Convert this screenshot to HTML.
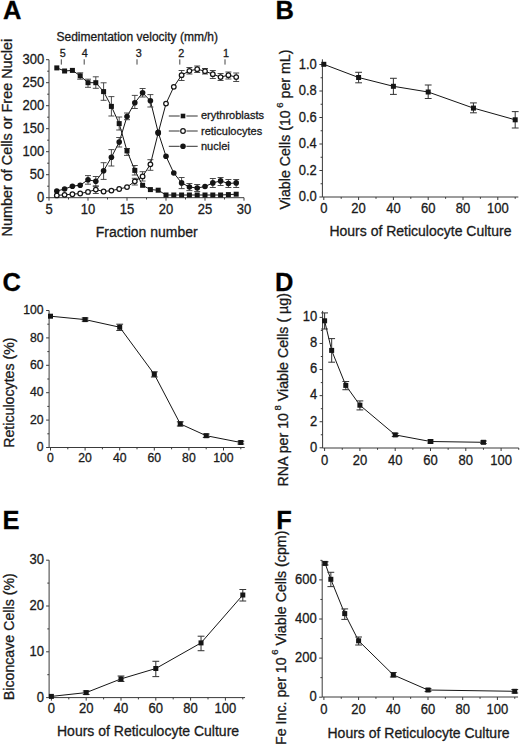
<!DOCTYPE html>
<html><head><meta charset="utf-8"><style>
html,body{margin:0;padding:0;background:#fff;}
svg{display:block;font-family:"Liberation Sans", sans-serif;}
text{stroke:#1a1a1a;stroke-width:0.3px;}
</style></head><body>
<svg width="520" height="745" viewBox="0 0 520 745">
<rect width="520" height="745" fill="#fff"/>
<text x="3.00" y="19.40" font-size="25.5" text-anchor="start" font-weight="bold" fill="#000">A</text>
<line x1="49.00" y1="197.70" x2="244.00" y2="197.70" stroke="#3a3a3a" stroke-width="1.0"/>
<line x1="49.00" y1="197.70" x2="49.00" y2="59.70" stroke="#3a3a3a" stroke-width="1.0"/>
<line x1="49.00" y1="197.70" x2="49.00" y2="200.70" stroke="#3a3a3a" stroke-width="1.0"/>
<text x="49.00" y="213.50" font-size="14.04" text-anchor="middle" textLength="7.23" lengthAdjust="spacingAndGlyphs" fill="#1a1a1a">5</text>
<line x1="88.00" y1="197.70" x2="88.00" y2="200.70" stroke="#3a3a3a" stroke-width="1.0"/>
<text x="88.00" y="213.50" font-size="14.04" text-anchor="middle" textLength="14.46" lengthAdjust="spacingAndGlyphs" fill="#1a1a1a">10</text>
<line x1="127.00" y1="197.70" x2="127.00" y2="200.70" stroke="#3a3a3a" stroke-width="1.0"/>
<text x="127.00" y="213.50" font-size="14.04" text-anchor="middle" textLength="14.46" lengthAdjust="spacingAndGlyphs" fill="#1a1a1a">15</text>
<line x1="166.00" y1="197.70" x2="166.00" y2="200.70" stroke="#3a3a3a" stroke-width="1.0"/>
<text x="166.00" y="213.50" font-size="14.04" text-anchor="middle" textLength="14.46" lengthAdjust="spacingAndGlyphs" fill="#1a1a1a">20</text>
<line x1="205.00" y1="197.70" x2="205.00" y2="200.70" stroke="#3a3a3a" stroke-width="1.0"/>
<text x="205.00" y="213.50" font-size="14.04" text-anchor="middle" textLength="14.46" lengthAdjust="spacingAndGlyphs" fill="#1a1a1a">25</text>
<line x1="244.00" y1="197.70" x2="244.00" y2="200.70" stroke="#3a3a3a" stroke-width="1.0"/>
<text x="244.00" y="213.50" font-size="14.04" text-anchor="middle" textLength="14.46" lengthAdjust="spacingAndGlyphs" fill="#1a1a1a">30</text>
<line x1="68.50" y1="197.70" x2="68.50" y2="199.50" stroke="#3a3a3a" stroke-width="1.0"/>
<line x1="107.50" y1="197.70" x2="107.50" y2="199.50" stroke="#3a3a3a" stroke-width="1.0"/>
<line x1="146.50" y1="197.70" x2="146.50" y2="199.50" stroke="#3a3a3a" stroke-width="1.0"/>
<line x1="185.50" y1="197.70" x2="185.50" y2="199.50" stroke="#3a3a3a" stroke-width="1.0"/>
<line x1="224.50" y1="197.70" x2="224.50" y2="199.50" stroke="#3a3a3a" stroke-width="1.0"/>
<line x1="46.00" y1="197.70" x2="49.00" y2="197.70" stroke="#3a3a3a" stroke-width="1.0"/>
<text x="44.20" y="201.90" font-size="14.04" text-anchor="end" textLength="7.23" lengthAdjust="spacingAndGlyphs" fill="#1a1a1a">0</text>
<line x1="46.00" y1="174.70" x2="49.00" y2="174.70" stroke="#3a3a3a" stroke-width="1.0"/>
<text x="44.20" y="178.90" font-size="14.04" text-anchor="end" textLength="14.46" lengthAdjust="spacingAndGlyphs" fill="#1a1a1a">50</text>
<line x1="46.00" y1="151.70" x2="49.00" y2="151.70" stroke="#3a3a3a" stroke-width="1.0"/>
<text x="44.20" y="155.90" font-size="14.04" text-anchor="end" textLength="21.68" lengthAdjust="spacingAndGlyphs" fill="#1a1a1a">100</text>
<line x1="46.00" y1="128.70" x2="49.00" y2="128.70" stroke="#3a3a3a" stroke-width="1.0"/>
<text x="44.20" y="132.90" font-size="14.04" text-anchor="end" textLength="21.68" lengthAdjust="spacingAndGlyphs" fill="#1a1a1a">150</text>
<line x1="46.00" y1="105.70" x2="49.00" y2="105.70" stroke="#3a3a3a" stroke-width="1.0"/>
<text x="44.20" y="109.90" font-size="14.04" text-anchor="end" textLength="21.68" lengthAdjust="spacingAndGlyphs" fill="#1a1a1a">200</text>
<line x1="46.00" y1="82.70" x2="49.00" y2="82.70" stroke="#3a3a3a" stroke-width="1.0"/>
<text x="44.20" y="86.90" font-size="14.04" text-anchor="end" textLength="21.68" lengthAdjust="spacingAndGlyphs" fill="#1a1a1a">250</text>
<line x1="46.00" y1="59.70" x2="49.00" y2="59.70" stroke="#3a3a3a" stroke-width="1.0"/>
<text x="44.20" y="63.90" font-size="14.04" text-anchor="end" textLength="21.68" lengthAdjust="spacingAndGlyphs" fill="#1a1a1a">300</text>
<line x1="47.20" y1="186.20" x2="49.00" y2="186.20" stroke="#3a3a3a" stroke-width="1.0"/>
<line x1="47.20" y1="163.20" x2="49.00" y2="163.20" stroke="#3a3a3a" stroke-width="1.0"/>
<line x1="47.20" y1="140.20" x2="49.00" y2="140.20" stroke="#3a3a3a" stroke-width="1.0"/>
<line x1="47.20" y1="117.20" x2="49.00" y2="117.20" stroke="#3a3a3a" stroke-width="1.0"/>
<line x1="47.20" y1="94.20" x2="49.00" y2="94.20" stroke="#3a3a3a" stroke-width="1.0"/>
<line x1="47.20" y1="71.20" x2="49.00" y2="71.20" stroke="#3a3a3a" stroke-width="1.0"/>
<text x="12.30" y="236.40" font-size="14.4" text-anchor="start" transform="rotate(-90 12.30 236.40)" fill="#1a1a1a">Number of Cells or Free Nuclei</text>
<text x="95.80" y="236.90" font-size="14" text-anchor="start" fill="#1a1a1a">Fraction number</text>
<text x="56.50" y="41.40" font-size="12" text-anchor="start" fill="#1a1a1a">Sedimentation velocity (mm/h)</text>
<text x="62.70" y="56.70" font-size="10.8" text-anchor="middle" fill="#1a1a1a">5</text>
<line x1="61.30" y1="59.30" x2="61.30" y2="64.60" stroke="#444" stroke-width="1.0"/>
<text x="84.80" y="56.70" font-size="10.8" text-anchor="middle" fill="#1a1a1a">4</text>
<line x1="84.20" y1="59.30" x2="84.20" y2="64.60" stroke="#444" stroke-width="1.0"/>
<text x="138.80" y="56.70" font-size="10.8" text-anchor="middle" fill="#1a1a1a">3</text>
<line x1="137.00" y1="59.30" x2="137.00" y2="64.60" stroke="#444" stroke-width="1.0"/>
<text x="181.20" y="56.70" font-size="10.8" text-anchor="middle" fill="#1a1a1a">2</text>
<line x1="179.80" y1="59.30" x2="179.80" y2="64.60" stroke="#444" stroke-width="1.0"/>
<text x="225.90" y="56.70" font-size="10.8" text-anchor="middle" fill="#1a1a1a">1</text>
<line x1="225.00" y1="59.30" x2="225.00" y2="64.60" stroke="#444" stroke-width="1.0"/>
<polyline points="56.80,195.40 64.60,194.80 72.40,194.20 80.20,193.50 88.00,191.90 95.80,189.60 103.60,191.50 111.40,190.60 119.20,189.00 127.00,187.10 134.80,181.30 142.60,176.40 150.40,164.30 158.20,133.00 166.00,103.60 173.80,86.80 181.60,75.20 189.40,70.80 197.20,69.20 205.00,71.20 212.80,74.20 220.60,77.10 228.40,75.20 236.20,77.10" fill="none" stroke="#151515" stroke-width="1.0"/>
<line x1="95.80" y1="186.00" x2="95.80" y2="193.50" stroke="#383838" stroke-width="0.9"/>
<line x1="92.80" y1="186.00" x2="98.80" y2="186.00" stroke="#383838" stroke-width="0.9"/>
<line x1="92.80" y1="193.50" x2="98.80" y2="193.50" stroke="#383838" stroke-width="0.9"/>
<line x1="134.80" y1="178.30" x2="134.80" y2="185.00" stroke="#383838" stroke-width="0.9"/>
<line x1="131.80" y1="178.30" x2="137.80" y2="178.30" stroke="#383838" stroke-width="0.9"/>
<line x1="131.80" y1="185.00" x2="137.80" y2="185.00" stroke="#383838" stroke-width="0.9"/>
<line x1="142.60" y1="171.70" x2="142.60" y2="181.00" stroke="#383838" stroke-width="0.9"/>
<line x1="139.60" y1="171.70" x2="145.60" y2="171.70" stroke="#383838" stroke-width="0.9"/>
<line x1="139.60" y1="181.00" x2="145.60" y2="181.00" stroke="#383838" stroke-width="0.9"/>
<line x1="150.40" y1="159.70" x2="150.40" y2="170.30" stroke="#383838" stroke-width="0.9"/>
<line x1="147.40" y1="159.70" x2="153.40" y2="159.70" stroke="#383838" stroke-width="0.9"/>
<line x1="147.40" y1="170.30" x2="153.40" y2="170.30" stroke="#383838" stroke-width="0.9"/>
<line x1="181.60" y1="70.50" x2="181.60" y2="80.50" stroke="#383838" stroke-width="0.9"/>
<line x1="178.60" y1="70.50" x2="184.60" y2="70.50" stroke="#383838" stroke-width="0.9"/>
<line x1="178.60" y1="80.50" x2="184.60" y2="80.50" stroke="#383838" stroke-width="0.9"/>
<line x1="189.40" y1="67.50" x2="189.40" y2="74.00" stroke="#383838" stroke-width="0.9"/>
<line x1="186.40" y1="67.50" x2="192.40" y2="67.50" stroke="#383838" stroke-width="0.9"/>
<line x1="186.40" y1="74.00" x2="192.40" y2="74.00" stroke="#383838" stroke-width="0.9"/>
<line x1="197.20" y1="66.00" x2="197.20" y2="72.50" stroke="#383838" stroke-width="0.9"/>
<line x1="194.20" y1="66.00" x2="200.20" y2="66.00" stroke="#383838" stroke-width="0.9"/>
<line x1="194.20" y1="72.50" x2="200.20" y2="72.50" stroke="#383838" stroke-width="0.9"/>
<line x1="205.00" y1="68.50" x2="205.00" y2="74.00" stroke="#383838" stroke-width="0.9"/>
<line x1="202.00" y1="68.50" x2="208.00" y2="68.50" stroke="#383838" stroke-width="0.9"/>
<line x1="202.00" y1="74.00" x2="208.00" y2="74.00" stroke="#383838" stroke-width="0.9"/>
<line x1="212.80" y1="70.50" x2="212.80" y2="78.50" stroke="#383838" stroke-width="0.9"/>
<line x1="209.80" y1="70.50" x2="215.80" y2="70.50" stroke="#383838" stroke-width="0.9"/>
<line x1="209.80" y1="78.50" x2="215.80" y2="78.50" stroke="#383838" stroke-width="0.9"/>
<line x1="220.60" y1="73.50" x2="220.60" y2="80.50" stroke="#383838" stroke-width="0.9"/>
<line x1="217.60" y1="73.50" x2="223.60" y2="73.50" stroke="#383838" stroke-width="0.9"/>
<line x1="217.60" y1="80.50" x2="223.60" y2="80.50" stroke="#383838" stroke-width="0.9"/>
<line x1="228.40" y1="72.00" x2="228.40" y2="79.00" stroke="#383838" stroke-width="0.9"/>
<line x1="225.40" y1="72.00" x2="231.40" y2="72.00" stroke="#383838" stroke-width="0.9"/>
<line x1="225.40" y1="79.00" x2="231.40" y2="79.00" stroke="#383838" stroke-width="0.9"/>
<line x1="236.20" y1="73.00" x2="236.20" y2="81.50" stroke="#383838" stroke-width="0.9"/>
<line x1="233.20" y1="73.00" x2="239.20" y2="73.00" stroke="#383838" stroke-width="0.9"/>
<line x1="233.20" y1="81.50" x2="239.20" y2="81.50" stroke="#383838" stroke-width="0.9"/>
<circle cx="56.80" cy="195.40" r="2.30" fill="#fff" stroke="#151515" stroke-width="1.25"/>
<circle cx="64.60" cy="194.80" r="2.30" fill="#fff" stroke="#151515" stroke-width="1.25"/>
<circle cx="72.40" cy="194.20" r="2.30" fill="#fff" stroke="#151515" stroke-width="1.25"/>
<circle cx="80.20" cy="193.50" r="2.30" fill="#fff" stroke="#151515" stroke-width="1.25"/>
<circle cx="88.00" cy="191.90" r="2.30" fill="#fff" stroke="#151515" stroke-width="1.25"/>
<circle cx="95.80" cy="189.60" r="2.30" fill="#fff" stroke="#151515" stroke-width="1.25"/>
<circle cx="103.60" cy="191.50" r="2.30" fill="#fff" stroke="#151515" stroke-width="1.25"/>
<circle cx="111.40" cy="190.60" r="2.30" fill="#fff" stroke="#151515" stroke-width="1.25"/>
<circle cx="119.20" cy="189.00" r="2.30" fill="#fff" stroke="#151515" stroke-width="1.25"/>
<circle cx="127.00" cy="187.10" r="2.30" fill="#fff" stroke="#151515" stroke-width="1.25"/>
<circle cx="134.80" cy="181.30" r="2.30" fill="#fff" stroke="#151515" stroke-width="1.25"/>
<circle cx="142.60" cy="176.40" r="2.30" fill="#fff" stroke="#151515" stroke-width="1.25"/>
<circle cx="150.40" cy="164.30" r="2.30" fill="#fff" stroke="#151515" stroke-width="1.25"/>
<circle cx="158.20" cy="133.00" r="2.30" fill="#fff" stroke="#151515" stroke-width="1.25"/>
<circle cx="166.00" cy="103.60" r="2.30" fill="#fff" stroke="#151515" stroke-width="1.25"/>
<circle cx="173.80" cy="86.80" r="2.30" fill="#fff" stroke="#151515" stroke-width="1.25"/>
<circle cx="181.60" cy="75.20" r="2.30" fill="#fff" stroke="#151515" stroke-width="1.25"/>
<circle cx="189.40" cy="70.80" r="2.30" fill="#fff" stroke="#151515" stroke-width="1.25"/>
<circle cx="197.20" cy="69.20" r="2.30" fill="#fff" stroke="#151515" stroke-width="1.25"/>
<circle cx="205.00" cy="71.20" r="2.30" fill="#fff" stroke="#151515" stroke-width="1.25"/>
<circle cx="212.80" cy="74.20" r="2.30" fill="#fff" stroke="#151515" stroke-width="1.25"/>
<circle cx="220.60" cy="77.10" r="2.30" fill="#fff" stroke="#151515" stroke-width="1.25"/>
<circle cx="228.40" cy="75.20" r="2.30" fill="#fff" stroke="#151515" stroke-width="1.25"/>
<circle cx="236.20" cy="77.10" r="2.30" fill="#fff" stroke="#151515" stroke-width="1.25"/>
<polyline points="56.80,191.00 64.60,189.00 72.40,186.20 80.20,185.20 88.00,179.80 95.80,181.30 103.60,170.80 111.40,157.30 119.20,142.10 127.00,116.50 134.80,102.80 142.60,92.80 150.40,100.80 158.20,132.30 166.00,156.30 173.80,173.00 181.60,182.90 189.40,187.00 197.20,188.00 205.00,186.50 212.80,182.90 220.60,180.90 228.40,183.50 236.20,182.90" fill="none" stroke="#151515" stroke-width="1.0"/>
<line x1="88.00" y1="175.60" x2="88.00" y2="184.20" stroke="#383838" stroke-width="0.9"/>
<line x1="85.00" y1="175.60" x2="91.00" y2="175.60" stroke="#383838" stroke-width="0.9"/>
<line x1="85.00" y1="184.20" x2="91.00" y2="184.20" stroke="#383838" stroke-width="0.9"/>
<line x1="95.80" y1="176.50" x2="95.80" y2="186.20" stroke="#383838" stroke-width="0.9"/>
<line x1="92.80" y1="176.50" x2="98.80" y2="176.50" stroke="#383838" stroke-width="0.9"/>
<line x1="92.80" y1="186.20" x2="98.80" y2="186.20" stroke="#383838" stroke-width="0.9"/>
<line x1="103.60" y1="162.70" x2="103.60" y2="179.40" stroke="#383838" stroke-width="0.9"/>
<line x1="100.60" y1="162.70" x2="106.60" y2="162.70" stroke="#383838" stroke-width="0.9"/>
<line x1="100.60" y1="179.40" x2="106.60" y2="179.40" stroke="#383838" stroke-width="0.9"/>
<line x1="111.40" y1="149.60" x2="111.40" y2="166.00" stroke="#383838" stroke-width="0.9"/>
<line x1="108.40" y1="149.60" x2="114.40" y2="149.60" stroke="#383838" stroke-width="0.9"/>
<line x1="108.40" y1="166.00" x2="114.40" y2="166.00" stroke="#383838" stroke-width="0.9"/>
<line x1="119.20" y1="137.50" x2="119.20" y2="147.00" stroke="#383838" stroke-width="0.9"/>
<line x1="116.20" y1="137.50" x2="122.20" y2="137.50" stroke="#383838" stroke-width="0.9"/>
<line x1="116.20" y1="147.00" x2="122.20" y2="147.00" stroke="#383838" stroke-width="0.9"/>
<line x1="127.00" y1="113.00" x2="127.00" y2="119.70" stroke="#383838" stroke-width="0.9"/>
<line x1="124.00" y1="113.00" x2="130.00" y2="113.00" stroke="#383838" stroke-width="0.9"/>
<line x1="124.00" y1="119.70" x2="130.00" y2="119.70" stroke="#383838" stroke-width="0.9"/>
<line x1="134.80" y1="95.40" x2="134.80" y2="108.50" stroke="#383838" stroke-width="0.9"/>
<line x1="131.80" y1="95.40" x2="137.80" y2="95.40" stroke="#383838" stroke-width="0.9"/>
<line x1="131.80" y1="108.50" x2="137.80" y2="108.50" stroke="#383838" stroke-width="0.9"/>
<line x1="142.60" y1="88.50" x2="142.60" y2="97.00" stroke="#383838" stroke-width="0.9"/>
<line x1="139.60" y1="88.50" x2="145.60" y2="88.50" stroke="#383838" stroke-width="0.9"/>
<line x1="139.60" y1="97.00" x2="145.60" y2="97.00" stroke="#383838" stroke-width="0.9"/>
<line x1="150.40" y1="94.60" x2="150.40" y2="107.00" stroke="#383838" stroke-width="0.9"/>
<line x1="147.40" y1="94.60" x2="153.40" y2="94.60" stroke="#383838" stroke-width="0.9"/>
<line x1="147.40" y1="107.00" x2="153.40" y2="107.00" stroke="#383838" stroke-width="0.9"/>
<line x1="181.60" y1="177.50" x2="181.60" y2="188.60" stroke="#383838" stroke-width="0.9"/>
<line x1="178.60" y1="177.50" x2="184.60" y2="177.50" stroke="#383838" stroke-width="0.9"/>
<line x1="178.60" y1="188.60" x2="184.60" y2="188.60" stroke="#383838" stroke-width="0.9"/>
<line x1="189.40" y1="183.50" x2="189.40" y2="190.60" stroke="#383838" stroke-width="0.9"/>
<line x1="186.40" y1="183.50" x2="192.40" y2="183.50" stroke="#383838" stroke-width="0.9"/>
<line x1="186.40" y1="190.60" x2="192.40" y2="190.60" stroke="#383838" stroke-width="0.9"/>
<line x1="197.20" y1="184.50" x2="197.20" y2="191.50" stroke="#383838" stroke-width="0.9"/>
<line x1="194.20" y1="184.50" x2="200.20" y2="184.50" stroke="#383838" stroke-width="0.9"/>
<line x1="194.20" y1="191.50" x2="200.20" y2="191.50" stroke="#383838" stroke-width="0.9"/>
<line x1="212.80" y1="178.50" x2="212.80" y2="187.50" stroke="#383838" stroke-width="0.9"/>
<line x1="209.80" y1="178.50" x2="215.80" y2="178.50" stroke="#383838" stroke-width="0.9"/>
<line x1="209.80" y1="187.50" x2="215.80" y2="187.50" stroke="#383838" stroke-width="0.9"/>
<line x1="220.60" y1="177.50" x2="220.60" y2="185.50" stroke="#383838" stroke-width="0.9"/>
<line x1="217.60" y1="177.50" x2="223.60" y2="177.50" stroke="#383838" stroke-width="0.9"/>
<line x1="217.60" y1="185.50" x2="223.60" y2="185.50" stroke="#383838" stroke-width="0.9"/>
<line x1="228.40" y1="179.50" x2="228.40" y2="187.50" stroke="#383838" stroke-width="0.9"/>
<line x1="225.40" y1="179.50" x2="231.40" y2="179.50" stroke="#383838" stroke-width="0.9"/>
<line x1="225.40" y1="187.50" x2="231.40" y2="187.50" stroke="#383838" stroke-width="0.9"/>
<line x1="236.20" y1="179.50" x2="236.20" y2="187.50" stroke="#383838" stroke-width="0.9"/>
<line x1="233.20" y1="179.50" x2="239.20" y2="179.50" stroke="#383838" stroke-width="0.9"/>
<line x1="233.20" y1="187.50" x2="239.20" y2="187.50" stroke="#383838" stroke-width="0.9"/>
<circle cx="56.80" cy="191.00" r="2.8" fill="#151515"/>
<circle cx="64.60" cy="189.00" r="2.8" fill="#151515"/>
<circle cx="72.40" cy="186.20" r="2.8" fill="#151515"/>
<circle cx="80.20" cy="185.20" r="2.8" fill="#151515"/>
<circle cx="88.00" cy="179.80" r="2.8" fill="#151515"/>
<circle cx="95.80" cy="181.30" r="2.8" fill="#151515"/>
<circle cx="103.60" cy="170.80" r="2.8" fill="#151515"/>
<circle cx="111.40" cy="157.30" r="2.8" fill="#151515"/>
<circle cx="119.20" cy="142.10" r="2.8" fill="#151515"/>
<circle cx="127.00" cy="116.50" r="2.8" fill="#151515"/>
<circle cx="134.80" cy="102.80" r="2.8" fill="#151515"/>
<circle cx="142.60" cy="92.80" r="2.8" fill="#151515"/>
<circle cx="150.40" cy="100.80" r="2.8" fill="#151515"/>
<circle cx="158.20" cy="132.30" r="2.8" fill="#151515"/>
<circle cx="166.00" cy="156.30" r="2.8" fill="#151515"/>
<circle cx="173.80" cy="173.00" r="2.8" fill="#151515"/>
<circle cx="181.60" cy="182.90" r="2.8" fill="#151515"/>
<circle cx="189.40" cy="187.00" r="2.8" fill="#151515"/>
<circle cx="197.20" cy="188.00" r="2.8" fill="#151515"/>
<circle cx="205.00" cy="186.50" r="2.8" fill="#151515"/>
<circle cx="212.80" cy="182.90" r="2.8" fill="#151515"/>
<circle cx="220.60" cy="180.90" r="2.8" fill="#151515"/>
<circle cx="228.40" cy="183.50" r="2.8" fill="#151515"/>
<circle cx="236.20" cy="182.90" r="2.8" fill="#151515"/>
<polyline points="56.80,67.90 64.60,71.00 72.40,70.40 80.20,75.80 88.00,82.70 95.80,82.70 103.60,91.60 111.40,106.40 119.20,123.60 127.00,150.90 134.80,170.40 142.60,185.30 150.40,189.60 158.20,190.20 166.00,195.00 173.80,195.00 181.60,195.00 189.40,195.00 197.20,195.00 205.00,195.00 212.80,195.00 220.60,195.00 228.40,194.60 236.20,194.20" fill="none" stroke="#151515" stroke-width="1.0"/>
<line x1="80.20" y1="72.80" x2="80.20" y2="79.20" stroke="#383838" stroke-width="0.9"/>
<line x1="77.20" y1="72.80" x2="83.20" y2="72.80" stroke="#383838" stroke-width="0.9"/>
<line x1="77.20" y1="79.20" x2="83.20" y2="79.20" stroke="#383838" stroke-width="0.9"/>
<line x1="88.00" y1="79.20" x2="88.00" y2="87.30" stroke="#383838" stroke-width="0.9"/>
<line x1="85.00" y1="79.20" x2="91.00" y2="79.20" stroke="#383838" stroke-width="0.9"/>
<line x1="85.00" y1="87.30" x2="91.00" y2="87.30" stroke="#383838" stroke-width="0.9"/>
<line x1="95.80" y1="76.80" x2="95.80" y2="88.30" stroke="#383838" stroke-width="0.9"/>
<line x1="92.80" y1="76.80" x2="98.80" y2="76.80" stroke="#383838" stroke-width="0.9"/>
<line x1="92.80" y1="88.30" x2="98.80" y2="88.30" stroke="#383838" stroke-width="0.9"/>
<line x1="103.60" y1="82.80" x2="103.60" y2="100.30" stroke="#383838" stroke-width="0.9"/>
<line x1="100.60" y1="82.80" x2="106.60" y2="82.80" stroke="#383838" stroke-width="0.9"/>
<line x1="100.60" y1="100.30" x2="106.60" y2="100.30" stroke="#383838" stroke-width="0.9"/>
<line x1="111.40" y1="96.60" x2="111.40" y2="116.00" stroke="#383838" stroke-width="0.9"/>
<line x1="108.40" y1="96.60" x2="114.40" y2="96.60" stroke="#383838" stroke-width="0.9"/>
<line x1="108.40" y1="116.00" x2="114.40" y2="116.00" stroke="#383838" stroke-width="0.9"/>
<line x1="119.20" y1="117.00" x2="119.20" y2="130.00" stroke="#383838" stroke-width="0.9"/>
<line x1="116.20" y1="117.00" x2="122.20" y2="117.00" stroke="#383838" stroke-width="0.9"/>
<line x1="116.20" y1="130.00" x2="122.20" y2="130.00" stroke="#383838" stroke-width="0.9"/>
<line x1="127.00" y1="148.50" x2="127.00" y2="155.40" stroke="#383838" stroke-width="0.9"/>
<line x1="124.00" y1="148.50" x2="130.00" y2="148.50" stroke="#383838" stroke-width="0.9"/>
<line x1="124.00" y1="155.40" x2="130.00" y2="155.40" stroke="#383838" stroke-width="0.9"/>
<line x1="134.80" y1="165.50" x2="134.80" y2="175.00" stroke="#383838" stroke-width="0.9"/>
<line x1="131.80" y1="165.50" x2="137.80" y2="165.50" stroke="#383838" stroke-width="0.9"/>
<line x1="131.80" y1="175.00" x2="137.80" y2="175.00" stroke="#383838" stroke-width="0.9"/>
<rect x="54.30" y="65.40" width="5.0" height="5.0" fill="#151515"/>
<rect x="62.10" y="68.50" width="5.0" height="5.0" fill="#151515"/>
<rect x="69.90" y="67.90" width="5.0" height="5.0" fill="#151515"/>
<rect x="77.70" y="73.30" width="5.0" height="5.0" fill="#151515"/>
<rect x="85.50" y="80.20" width="5.0" height="5.0" fill="#151515"/>
<rect x="93.30" y="80.20" width="5.0" height="5.0" fill="#151515"/>
<rect x="101.10" y="89.10" width="5.0" height="5.0" fill="#151515"/>
<rect x="108.90" y="103.90" width="5.0" height="5.0" fill="#151515"/>
<rect x="116.70" y="121.10" width="5.0" height="5.0" fill="#151515"/>
<rect x="124.50" y="148.40" width="5.0" height="5.0" fill="#151515"/>
<rect x="132.30" y="167.90" width="5.0" height="5.0" fill="#151515"/>
<rect x="140.10" y="182.80" width="5.0" height="5.0" fill="#151515"/>
<rect x="147.90" y="187.10" width="5.0" height="5.0" fill="#151515"/>
<rect x="155.70" y="187.70" width="5.0" height="5.0" fill="#151515"/>
<rect x="163.50" y="192.50" width="5.0" height="5.0" fill="#151515"/>
<rect x="171.30" y="192.50" width="5.0" height="5.0" fill="#151515"/>
<rect x="179.10" y="192.50" width="5.0" height="5.0" fill="#151515"/>
<rect x="186.90" y="192.50" width="5.0" height="5.0" fill="#151515"/>
<rect x="194.70" y="192.50" width="5.0" height="5.0" fill="#151515"/>
<rect x="202.50" y="192.50" width="5.0" height="5.0" fill="#151515"/>
<rect x="210.30" y="192.50" width="5.0" height="5.0" fill="#151515"/>
<rect x="218.10" y="192.50" width="5.0" height="5.0" fill="#151515"/>
<rect x="225.90" y="192.10" width="5.0" height="5.0" fill="#151515"/>
<rect x="233.70" y="191.70" width="5.0" height="5.0" fill="#151515"/>
<line x1="168.80" y1="116.00" x2="179.70" y2="116.00" stroke="#333" stroke-width="1.0"/>
<line x1="186.40" y1="116.00" x2="197.70" y2="116.00" stroke="#333" stroke-width="1.0"/>
<rect x="180.70" y="113.70" width="4.6" height="4.6" fill="#151515"/>
<text x="201.00" y="119.20" font-size="11" text-anchor="start" fill="#1a1a1a">erythroblasts</text>
<line x1="168.80" y1="131.00" x2="179.70" y2="131.00" stroke="#333" stroke-width="1.0"/>
<line x1="186.40" y1="131.00" x2="197.70" y2="131.00" stroke="#333" stroke-width="1.0"/>
<circle cx="183.00" cy="131.00" r="2.30" fill="#fff" stroke="#151515" stroke-width="1.25"/>
<text x="201.00" y="134.60" font-size="11" text-anchor="start" fill="#1a1a1a">reticulocytes</text>
<line x1="168.80" y1="146.30" x2="179.70" y2="146.30" stroke="#333" stroke-width="1.0"/>
<line x1="186.40" y1="146.30" x2="197.70" y2="146.30" stroke="#333" stroke-width="1.0"/>
<circle cx="183.00" cy="146.30" r="2.8" fill="#151515"/>
<text x="201.00" y="150.20" font-size="11" text-anchor="start" fill="#1a1a1a">nuclei</text>
<text x="275.50" y="19.20" font-size="25.5" text-anchor="start" font-weight="bold" fill="#000">B</text>
<line x1="322.40" y1="197.00" x2="518.33" y2="197.00" stroke="#3a3a3a" stroke-width="1.0"/>
<line x1="322.40" y1="197.00" x2="322.40" y2="59.30" stroke="#3a3a3a" stroke-width="1.0"/>
<line x1="323.80" y1="197.00" x2="323.80" y2="200.00" stroke="#3a3a3a" stroke-width="1.0"/>
<text x="323.80" y="212.80" font-size="14.04" text-anchor="middle" textLength="7.23" lengthAdjust="spacingAndGlyphs" fill="#1a1a1a">0</text>
<line x1="358.60" y1="197.00" x2="358.60" y2="200.00" stroke="#3a3a3a" stroke-width="1.0"/>
<text x="358.60" y="212.80" font-size="14.04" text-anchor="middle" textLength="14.46" lengthAdjust="spacingAndGlyphs" fill="#1a1a1a">20</text>
<line x1="393.40" y1="197.00" x2="393.40" y2="200.00" stroke="#3a3a3a" stroke-width="1.0"/>
<text x="393.40" y="212.80" font-size="14.04" text-anchor="middle" textLength="14.46" lengthAdjust="spacingAndGlyphs" fill="#1a1a1a">40</text>
<line x1="428.20" y1="197.00" x2="428.20" y2="200.00" stroke="#3a3a3a" stroke-width="1.0"/>
<text x="428.20" y="212.80" font-size="14.04" text-anchor="middle" textLength="14.46" lengthAdjust="spacingAndGlyphs" fill="#1a1a1a">60</text>
<line x1="463.00" y1="197.00" x2="463.00" y2="200.00" stroke="#3a3a3a" stroke-width="1.0"/>
<text x="463.00" y="212.80" font-size="14.04" text-anchor="middle" textLength="14.46" lengthAdjust="spacingAndGlyphs" fill="#1a1a1a">80</text>
<line x1="497.80" y1="197.00" x2="497.80" y2="200.00" stroke="#3a3a3a" stroke-width="1.0"/>
<text x="497.80" y="212.80" font-size="14.04" text-anchor="middle" textLength="21.68" lengthAdjust="spacingAndGlyphs" fill="#1a1a1a">100</text>
<line x1="341.20" y1="197.00" x2="341.20" y2="198.80" stroke="#3a3a3a" stroke-width="1.0"/>
<line x1="376.00" y1="197.00" x2="376.00" y2="198.80" stroke="#3a3a3a" stroke-width="1.0"/>
<line x1="410.80" y1="197.00" x2="410.80" y2="198.80" stroke="#3a3a3a" stroke-width="1.0"/>
<line x1="445.60" y1="197.00" x2="445.60" y2="198.80" stroke="#3a3a3a" stroke-width="1.0"/>
<line x1="480.40" y1="197.00" x2="480.40" y2="198.80" stroke="#3a3a3a" stroke-width="1.0"/>
<line x1="515.20" y1="197.00" x2="515.20" y2="198.80" stroke="#3a3a3a" stroke-width="1.0"/>
<line x1="319.40" y1="197.00" x2="322.40" y2="197.00" stroke="#3a3a3a" stroke-width="1.0"/>
<text x="316.80" y="201.20" font-size="14.04" text-anchor="end" textLength="18.07" lengthAdjust="spacingAndGlyphs" fill="#1a1a1a">0.0</text>
<line x1="319.40" y1="170.50" x2="322.40" y2="170.50" stroke="#3a3a3a" stroke-width="1.0"/>
<text x="316.80" y="174.70" font-size="14.04" text-anchor="end" textLength="18.07" lengthAdjust="spacingAndGlyphs" fill="#1a1a1a">0.2</text>
<line x1="319.40" y1="144.00" x2="322.40" y2="144.00" stroke="#3a3a3a" stroke-width="1.0"/>
<text x="316.80" y="148.20" font-size="14.04" text-anchor="end" textLength="18.07" lengthAdjust="spacingAndGlyphs" fill="#1a1a1a">0.4</text>
<line x1="319.40" y1="117.50" x2="322.40" y2="117.50" stroke="#3a3a3a" stroke-width="1.0"/>
<text x="316.80" y="121.70" font-size="14.04" text-anchor="end" textLength="18.07" lengthAdjust="spacingAndGlyphs" fill="#1a1a1a">0.6</text>
<line x1="319.40" y1="91.00" x2="322.40" y2="91.00" stroke="#3a3a3a" stroke-width="1.0"/>
<text x="316.80" y="95.20" font-size="14.04" text-anchor="end" textLength="18.07" lengthAdjust="spacingAndGlyphs" fill="#1a1a1a">0.8</text>
<line x1="319.40" y1="64.50" x2="322.40" y2="64.50" stroke="#3a3a3a" stroke-width="1.0"/>
<text x="316.80" y="68.70" font-size="14.04" text-anchor="end" textLength="18.07" lengthAdjust="spacingAndGlyphs" fill="#1a1a1a">1.0</text>
<line x1="320.60" y1="183.75" x2="322.40" y2="183.75" stroke="#3a3a3a" stroke-width="1.0"/>
<line x1="320.60" y1="157.25" x2="322.40" y2="157.25" stroke="#3a3a3a" stroke-width="1.0"/>
<line x1="320.60" y1="130.75" x2="322.40" y2="130.75" stroke="#3a3a3a" stroke-width="1.0"/>
<line x1="320.60" y1="104.25" x2="322.40" y2="104.25" stroke="#3a3a3a" stroke-width="1.0"/>
<line x1="320.60" y1="77.75" x2="322.40" y2="77.75" stroke="#3a3a3a" stroke-width="1.0"/>
<text x="290.20" y="209.40" font-size="14.2" text-anchor="start" transform="rotate(-90 290.20 209.40)" fill="#1a1a1a">Viable Cells (10<tspan font-size="9.5" dy="-7.3"> 6</tspan><tspan dy="7.3"> per mL)</tspan></text>
<text x="329.40" y="235.80" font-size="14" text-anchor="start" fill="#1a1a1a">Hours of Reticulocyte Culture</text>
<polyline points="323.80,64.30 358.60,77.50 393.40,86.30 428.20,92.00 473.44,108.10 515.20,119.80" fill="none" stroke="#151515" stroke-width="1.0"/>
<line x1="358.60" y1="72.30" x2="358.60" y2="82.80" stroke="#383838" stroke-width="1.05"/>
<line x1="355.20" y1="72.30" x2="362.00" y2="72.30" stroke="#383838" stroke-width="1.05"/>
<line x1="355.20" y1="82.80" x2="362.00" y2="82.80" stroke="#383838" stroke-width="1.05"/>
<line x1="393.40" y1="78.30" x2="393.40" y2="94.40" stroke="#383838" stroke-width="1.05"/>
<line x1="390.00" y1="78.30" x2="396.80" y2="78.30" stroke="#383838" stroke-width="1.05"/>
<line x1="390.00" y1="94.40" x2="396.80" y2="94.40" stroke="#383838" stroke-width="1.05"/>
<line x1="428.20" y1="85.00" x2="428.20" y2="98.50" stroke="#383838" stroke-width="1.05"/>
<line x1="424.80" y1="85.00" x2="431.60" y2="85.00" stroke="#383838" stroke-width="1.05"/>
<line x1="424.80" y1="98.50" x2="431.60" y2="98.50" stroke="#383838" stroke-width="1.05"/>
<line x1="473.44" y1="102.90" x2="473.44" y2="112.80" stroke="#383838" stroke-width="1.05"/>
<line x1="470.04" y1="102.90" x2="476.84" y2="102.90" stroke="#383838" stroke-width="1.05"/>
<line x1="470.04" y1="112.80" x2="476.84" y2="112.80" stroke="#383838" stroke-width="1.05"/>
<line x1="515.20" y1="111.60" x2="515.20" y2="128.00" stroke="#383838" stroke-width="1.05"/>
<line x1="511.80" y1="111.60" x2="518.60" y2="111.60" stroke="#383838" stroke-width="1.05"/>
<line x1="511.80" y1="128.00" x2="518.60" y2="128.00" stroke="#383838" stroke-width="1.05"/>
<rect x="321.30" y="61.80" width="5.0" height="5.0" fill="#151515"/>
<rect x="356.10" y="75.00" width="5.0" height="5.0" fill="#151515"/>
<rect x="390.90" y="83.80" width="5.0" height="5.0" fill="#151515"/>
<rect x="425.70" y="89.50" width="5.0" height="5.0" fill="#151515"/>
<rect x="470.94" y="105.60" width="5.0" height="5.0" fill="#151515"/>
<rect x="512.70" y="117.30" width="5.0" height="5.0" fill="#151515"/>
<text x="2.50" y="291.30" font-size="25.5" text-anchor="start" font-weight="bold" fill="#000">C</text>
<line x1="49.10" y1="447.50" x2="244.78" y2="447.50" stroke="#3a3a3a" stroke-width="1.0"/>
<line x1="49.10" y1="447.50" x2="49.10" y2="310.50" stroke="#3a3a3a" stroke-width="1.0"/>
<line x1="50.50" y1="447.50" x2="50.50" y2="450.50" stroke="#3a3a3a" stroke-width="1.0"/>
<text x="50.50" y="462.30" font-size="12.20" text-anchor="middle" textLength="6.78" lengthAdjust="spacingAndGlyphs" fill="#1a1a1a">0</text>
<line x1="85.10" y1="447.50" x2="85.10" y2="450.50" stroke="#3a3a3a" stroke-width="1.0"/>
<text x="85.10" y="462.30" font-size="12.20" text-anchor="middle" textLength="13.57" lengthAdjust="spacingAndGlyphs" fill="#1a1a1a">20</text>
<line x1="119.70" y1="447.50" x2="119.70" y2="450.50" stroke="#3a3a3a" stroke-width="1.0"/>
<text x="119.70" y="462.30" font-size="12.20" text-anchor="middle" textLength="13.57" lengthAdjust="spacingAndGlyphs" fill="#1a1a1a">40</text>
<line x1="154.30" y1="447.50" x2="154.30" y2="450.50" stroke="#3a3a3a" stroke-width="1.0"/>
<text x="154.30" y="462.30" font-size="12.20" text-anchor="middle" textLength="13.57" lengthAdjust="spacingAndGlyphs" fill="#1a1a1a">60</text>
<line x1="188.90" y1="447.50" x2="188.90" y2="450.50" stroke="#3a3a3a" stroke-width="1.0"/>
<text x="188.90" y="462.30" font-size="12.20" text-anchor="middle" textLength="13.57" lengthAdjust="spacingAndGlyphs" fill="#1a1a1a">80</text>
<line x1="223.50" y1="447.50" x2="223.50" y2="450.50" stroke="#3a3a3a" stroke-width="1.0"/>
<text x="223.50" y="462.30" font-size="12.20" text-anchor="middle" textLength="20.35" lengthAdjust="spacingAndGlyphs" fill="#1a1a1a">100</text>
<line x1="67.80" y1="447.50" x2="67.80" y2="449.30" stroke="#3a3a3a" stroke-width="1.0"/>
<line x1="102.40" y1="447.50" x2="102.40" y2="449.30" stroke="#3a3a3a" stroke-width="1.0"/>
<line x1="137.00" y1="447.50" x2="137.00" y2="449.30" stroke="#3a3a3a" stroke-width="1.0"/>
<line x1="171.60" y1="447.50" x2="171.60" y2="449.30" stroke="#3a3a3a" stroke-width="1.0"/>
<line x1="206.20" y1="447.50" x2="206.20" y2="449.30" stroke="#3a3a3a" stroke-width="1.0"/>
<line x1="240.80" y1="447.50" x2="240.80" y2="449.30" stroke="#3a3a3a" stroke-width="1.0"/>
<line x1="46.10" y1="447.50" x2="49.10" y2="447.50" stroke="#3a3a3a" stroke-width="1.0"/>
<text x="43.60" y="451.10" font-size="12.20" text-anchor="end" textLength="6.78" lengthAdjust="spacingAndGlyphs" fill="#1a1a1a">0</text>
<line x1="46.10" y1="420.10" x2="49.10" y2="420.10" stroke="#3a3a3a" stroke-width="1.0"/>
<text x="43.60" y="423.70" font-size="12.20" text-anchor="end" textLength="13.57" lengthAdjust="spacingAndGlyphs" fill="#1a1a1a">20</text>
<line x1="46.10" y1="392.70" x2="49.10" y2="392.70" stroke="#3a3a3a" stroke-width="1.0"/>
<text x="43.60" y="396.30" font-size="12.20" text-anchor="end" textLength="13.57" lengthAdjust="spacingAndGlyphs" fill="#1a1a1a">40</text>
<line x1="46.10" y1="365.30" x2="49.10" y2="365.30" stroke="#3a3a3a" stroke-width="1.0"/>
<text x="43.60" y="368.90" font-size="12.20" text-anchor="end" textLength="13.57" lengthAdjust="spacingAndGlyphs" fill="#1a1a1a">60</text>
<line x1="46.10" y1="337.90" x2="49.10" y2="337.90" stroke="#3a3a3a" stroke-width="1.0"/>
<text x="43.60" y="341.50" font-size="12.20" text-anchor="end" textLength="13.57" lengthAdjust="spacingAndGlyphs" fill="#1a1a1a">80</text>
<line x1="46.10" y1="310.50" x2="49.10" y2="310.50" stroke="#3a3a3a" stroke-width="1.0"/>
<text x="43.60" y="314.10" font-size="12.20" text-anchor="end" textLength="20.35" lengthAdjust="spacingAndGlyphs" fill="#1a1a1a">100</text>
<line x1="47.30" y1="433.80" x2="49.10" y2="433.80" stroke="#3a3a3a" stroke-width="1.0"/>
<line x1="47.30" y1="406.40" x2="49.10" y2="406.40" stroke="#3a3a3a" stroke-width="1.0"/>
<line x1="47.30" y1="379.00" x2="49.10" y2="379.00" stroke="#3a3a3a" stroke-width="1.0"/>
<line x1="47.30" y1="351.60" x2="49.10" y2="351.60" stroke="#3a3a3a" stroke-width="1.0"/>
<line x1="47.30" y1="324.20" x2="49.10" y2="324.20" stroke="#3a3a3a" stroke-width="1.0"/>
<text x="14.00" y="447.80" font-size="14.2" text-anchor="start" transform="rotate(-90 14.00 447.80)" fill="#1a1a1a">Reticulocytes (%)</text>
<polyline points="50.50,316.20 85.10,319.60 119.70,327.20 154.30,374.30 180.25,423.90 206.20,435.70 240.80,442.50" fill="none" stroke="#151515" stroke-width="1.0"/>
<line x1="85.10" y1="318.00" x2="85.10" y2="321.20" stroke="#383838" stroke-width="1.05"/>
<line x1="81.70" y1="318.00" x2="88.50" y2="318.00" stroke="#383838" stroke-width="1.05"/>
<line x1="81.70" y1="321.20" x2="88.50" y2="321.20" stroke="#383838" stroke-width="1.05"/>
<line x1="119.70" y1="324.20" x2="119.70" y2="330.50" stroke="#383838" stroke-width="1.05"/>
<line x1="116.30" y1="324.20" x2="123.10" y2="324.20" stroke="#383838" stroke-width="1.05"/>
<line x1="116.30" y1="330.50" x2="123.10" y2="330.50" stroke="#383838" stroke-width="1.05"/>
<line x1="154.30" y1="371.80" x2="154.30" y2="377.00" stroke="#383838" stroke-width="1.05"/>
<line x1="150.90" y1="371.80" x2="157.70" y2="371.80" stroke="#383838" stroke-width="1.05"/>
<line x1="150.90" y1="377.00" x2="157.70" y2="377.00" stroke="#383838" stroke-width="1.05"/>
<line x1="180.25" y1="421.80" x2="180.25" y2="426.00" stroke="#383838" stroke-width="1.05"/>
<line x1="176.85" y1="421.80" x2="183.65" y2="421.80" stroke="#383838" stroke-width="1.05"/>
<line x1="176.85" y1="426.00" x2="183.65" y2="426.00" stroke="#383838" stroke-width="1.05"/>
<line x1="206.20" y1="434.00" x2="206.20" y2="437.50" stroke="#383838" stroke-width="1.05"/>
<line x1="202.80" y1="434.00" x2="209.60" y2="434.00" stroke="#383838" stroke-width="1.05"/>
<line x1="202.80" y1="437.50" x2="209.60" y2="437.50" stroke="#383838" stroke-width="1.05"/>
<line x1="240.80" y1="441.20" x2="240.80" y2="444.00" stroke="#383838" stroke-width="1.05"/>
<line x1="237.40" y1="441.20" x2="244.20" y2="441.20" stroke="#383838" stroke-width="1.05"/>
<line x1="237.40" y1="444.00" x2="244.20" y2="444.00" stroke="#383838" stroke-width="1.05"/>
<rect x="48.00" y="313.70" width="5.0" height="5.0" fill="#151515"/>
<rect x="82.60" y="317.10" width="5.0" height="5.0" fill="#151515"/>
<rect x="117.20" y="324.70" width="5.0" height="5.0" fill="#151515"/>
<rect x="151.80" y="371.80" width="5.0" height="5.0" fill="#151515"/>
<rect x="177.75" y="421.40" width="5.0" height="5.0" fill="#151515"/>
<rect x="203.70" y="433.20" width="5.0" height="5.0" fill="#151515"/>
<rect x="238.30" y="440.00" width="5.0" height="5.0" fill="#151515"/>
<text x="275.00" y="290.80" font-size="25.5" text-anchor="start" font-weight="bold" fill="#000">D</text>
<line x1="322.60" y1="448.00" x2="518.75" y2="448.00" stroke="#3a3a3a" stroke-width="1.0"/>
<line x1="322.60" y1="448.00" x2="322.60" y2="310.88" stroke="#3a3a3a" stroke-width="1.0"/>
<line x1="324.60" y1="448.00" x2="324.60" y2="451.00" stroke="#3a3a3a" stroke-width="1.0"/>
<text x="324.60" y="464.90" font-size="14.04" text-anchor="middle" textLength="7.23" lengthAdjust="spacingAndGlyphs" fill="#1a1a1a">0</text>
<line x1="359.90" y1="448.00" x2="359.90" y2="451.00" stroke="#3a3a3a" stroke-width="1.0"/>
<text x="359.90" y="464.90" font-size="14.04" text-anchor="middle" textLength="14.46" lengthAdjust="spacingAndGlyphs" fill="#1a1a1a">20</text>
<line x1="395.20" y1="448.00" x2="395.20" y2="451.00" stroke="#3a3a3a" stroke-width="1.0"/>
<text x="395.20" y="464.90" font-size="14.04" text-anchor="middle" textLength="14.46" lengthAdjust="spacingAndGlyphs" fill="#1a1a1a">40</text>
<line x1="430.50" y1="448.00" x2="430.50" y2="451.00" stroke="#3a3a3a" stroke-width="1.0"/>
<text x="430.50" y="464.90" font-size="14.04" text-anchor="middle" textLength="14.46" lengthAdjust="spacingAndGlyphs" fill="#1a1a1a">60</text>
<line x1="465.80" y1="448.00" x2="465.80" y2="451.00" stroke="#3a3a3a" stroke-width="1.0"/>
<text x="465.80" y="464.90" font-size="14.04" text-anchor="middle" textLength="14.46" lengthAdjust="spacingAndGlyphs" fill="#1a1a1a">80</text>
<line x1="501.10" y1="448.00" x2="501.10" y2="451.00" stroke="#3a3a3a" stroke-width="1.0"/>
<text x="501.10" y="464.90" font-size="14.04" text-anchor="middle" textLength="21.68" lengthAdjust="spacingAndGlyphs" fill="#1a1a1a">100</text>
<line x1="342.25" y1="448.00" x2="342.25" y2="449.80" stroke="#3a3a3a" stroke-width="1.0"/>
<line x1="377.55" y1="448.00" x2="377.55" y2="449.80" stroke="#3a3a3a" stroke-width="1.0"/>
<line x1="412.85" y1="448.00" x2="412.85" y2="449.80" stroke="#3a3a3a" stroke-width="1.0"/>
<line x1="448.15" y1="448.00" x2="448.15" y2="449.80" stroke="#3a3a3a" stroke-width="1.0"/>
<line x1="483.45" y1="448.00" x2="483.45" y2="449.80" stroke="#3a3a3a" stroke-width="1.0"/>
<line x1="518.75" y1="448.00" x2="518.75" y2="449.80" stroke="#3a3a3a" stroke-width="1.0"/>
<line x1="319.60" y1="447.80" x2="322.60" y2="447.80" stroke="#3a3a3a" stroke-width="1.0"/>
<text x="317.20" y="451.60" font-size="14.04" text-anchor="end" textLength="7.23" lengthAdjust="spacingAndGlyphs" fill="#1a1a1a">0</text>
<line x1="319.60" y1="421.72" x2="322.60" y2="421.72" stroke="#3a3a3a" stroke-width="1.0"/>
<text x="317.20" y="425.52" font-size="14.04" text-anchor="end" textLength="7.23" lengthAdjust="spacingAndGlyphs" fill="#1a1a1a">2</text>
<line x1="319.60" y1="395.64" x2="322.60" y2="395.64" stroke="#3a3a3a" stroke-width="1.0"/>
<text x="317.20" y="399.44" font-size="14.04" text-anchor="end" textLength="7.23" lengthAdjust="spacingAndGlyphs" fill="#1a1a1a">4</text>
<line x1="319.60" y1="369.56" x2="322.60" y2="369.56" stroke="#3a3a3a" stroke-width="1.0"/>
<text x="317.20" y="373.36" font-size="14.04" text-anchor="end" textLength="7.23" lengthAdjust="spacingAndGlyphs" fill="#1a1a1a">6</text>
<line x1="319.60" y1="343.48" x2="322.60" y2="343.48" stroke="#3a3a3a" stroke-width="1.0"/>
<text x="317.20" y="347.28" font-size="14.04" text-anchor="end" textLength="7.23" lengthAdjust="spacingAndGlyphs" fill="#1a1a1a">8</text>
<line x1="319.60" y1="317.40" x2="322.60" y2="317.40" stroke="#3a3a3a" stroke-width="1.0"/>
<text x="317.20" y="321.20" font-size="14.04" text-anchor="end" textLength="14.46" lengthAdjust="spacingAndGlyphs" fill="#1a1a1a">10</text>
<line x1="320.80" y1="434.76" x2="322.60" y2="434.76" stroke="#3a3a3a" stroke-width="1.0"/>
<line x1="320.80" y1="408.68" x2="322.60" y2="408.68" stroke="#3a3a3a" stroke-width="1.0"/>
<line x1="320.80" y1="382.60" x2="322.60" y2="382.60" stroke="#3a3a3a" stroke-width="1.0"/>
<line x1="320.80" y1="356.52" x2="322.60" y2="356.52" stroke="#3a3a3a" stroke-width="1.0"/>
<line x1="320.80" y1="330.44" x2="322.60" y2="330.44" stroke="#3a3a3a" stroke-width="1.0"/>
<text x="288.20" y="486.40" font-size="14.2" text-anchor="start" transform="rotate(-90 288.20 486.40)" fill="#1a1a1a">RNA per 10<tspan font-size="9.5" dy="-7.3"> 8</tspan><tspan dy="7.3"> Viable Cells ( µg)</tspan></text>
<polyline points="324.60,320.80 331.66,350.40 345.78,385.40 359.90,405.20 395.20,434.90 430.50,441.50 483.45,442.30" fill="none" stroke="#151515" stroke-width="1.0"/>
<line x1="324.60" y1="312.90" x2="324.60" y2="329.00" stroke="#383838" stroke-width="1.05"/>
<line x1="321.20" y1="312.90" x2="328.00" y2="312.90" stroke="#383838" stroke-width="1.05"/>
<line x1="321.20" y1="329.00" x2="328.00" y2="329.00" stroke="#383838" stroke-width="1.05"/>
<line x1="331.66" y1="338.60" x2="331.66" y2="362.20" stroke="#383838" stroke-width="1.05"/>
<line x1="328.26" y1="338.60" x2="335.06" y2="338.60" stroke="#383838" stroke-width="1.05"/>
<line x1="328.26" y1="362.20" x2="335.06" y2="362.20" stroke="#383838" stroke-width="1.05"/>
<line x1="345.78" y1="381.50" x2="345.78" y2="389.70" stroke="#383838" stroke-width="1.05"/>
<line x1="342.38" y1="381.50" x2="349.18" y2="381.50" stroke="#383838" stroke-width="1.05"/>
<line x1="342.38" y1="389.70" x2="349.18" y2="389.70" stroke="#383838" stroke-width="1.05"/>
<line x1="359.90" y1="400.90" x2="359.90" y2="409.90" stroke="#383838" stroke-width="1.05"/>
<line x1="356.50" y1="400.90" x2="363.30" y2="400.90" stroke="#383838" stroke-width="1.05"/>
<line x1="356.50" y1="409.90" x2="363.30" y2="409.90" stroke="#383838" stroke-width="1.05"/>
<line x1="395.20" y1="433.30" x2="395.20" y2="436.50" stroke="#383838" stroke-width="1.05"/>
<line x1="391.80" y1="433.30" x2="398.60" y2="433.30" stroke="#383838" stroke-width="1.05"/>
<line x1="391.80" y1="436.50" x2="398.60" y2="436.50" stroke="#383838" stroke-width="1.05"/>
<line x1="430.50" y1="440.00" x2="430.50" y2="443.00" stroke="#383838" stroke-width="1.05"/>
<line x1="427.10" y1="440.00" x2="433.90" y2="440.00" stroke="#383838" stroke-width="1.05"/>
<line x1="427.10" y1="443.00" x2="433.90" y2="443.00" stroke="#383838" stroke-width="1.05"/>
<line x1="483.45" y1="441.00" x2="483.45" y2="443.60" stroke="#383838" stroke-width="1.05"/>
<line x1="480.05" y1="441.00" x2="486.85" y2="441.00" stroke="#383838" stroke-width="1.05"/>
<line x1="480.05" y1="443.60" x2="486.85" y2="443.60" stroke="#383838" stroke-width="1.05"/>
<rect x="322.10" y="318.30" width="5.0" height="5.0" fill="#151515"/>
<rect x="329.16" y="347.90" width="5.0" height="5.0" fill="#151515"/>
<rect x="343.28" y="382.90" width="5.0" height="5.0" fill="#151515"/>
<rect x="357.40" y="402.70" width="5.0" height="5.0" fill="#151515"/>
<rect x="392.70" y="432.40" width="5.0" height="5.0" fill="#151515"/>
<rect x="428.00" y="439.00" width="5.0" height="5.0" fill="#151515"/>
<rect x="480.95" y="439.80" width="5.0" height="5.0" fill="#151515"/>
<text x="2.40" y="529.00" font-size="25.5" text-anchor="start" font-weight="bold" fill="#000">E</text>
<line x1="49.10" y1="697.60" x2="245.06" y2="697.60" stroke="#3a3a3a" stroke-width="1.0"/>
<line x1="49.10" y1="697.60" x2="49.10" y2="560.20" stroke="#3a3a3a" stroke-width="1.0"/>
<line x1="51.40" y1="697.60" x2="51.40" y2="700.60" stroke="#3a3a3a" stroke-width="1.0"/>
<text x="51.40" y="713.10" font-size="14.04" text-anchor="middle" textLength="7.23" lengthAdjust="spacingAndGlyphs" fill="#1a1a1a">0</text>
<line x1="86.20" y1="697.60" x2="86.20" y2="700.60" stroke="#3a3a3a" stroke-width="1.0"/>
<text x="86.20" y="713.10" font-size="14.04" text-anchor="middle" textLength="14.46" lengthAdjust="spacingAndGlyphs" fill="#1a1a1a">20</text>
<line x1="121.00" y1="697.60" x2="121.00" y2="700.60" stroke="#3a3a3a" stroke-width="1.0"/>
<text x="121.00" y="713.10" font-size="14.04" text-anchor="middle" textLength="14.46" lengthAdjust="spacingAndGlyphs" fill="#1a1a1a">40</text>
<line x1="155.80" y1="697.60" x2="155.80" y2="700.60" stroke="#3a3a3a" stroke-width="1.0"/>
<text x="155.80" y="713.10" font-size="14.04" text-anchor="middle" textLength="14.46" lengthAdjust="spacingAndGlyphs" fill="#1a1a1a">60</text>
<line x1="190.60" y1="697.60" x2="190.60" y2="700.60" stroke="#3a3a3a" stroke-width="1.0"/>
<text x="190.60" y="713.10" font-size="14.04" text-anchor="middle" textLength="14.46" lengthAdjust="spacingAndGlyphs" fill="#1a1a1a">80</text>
<line x1="225.40" y1="697.60" x2="225.40" y2="700.60" stroke="#3a3a3a" stroke-width="1.0"/>
<text x="225.40" y="713.10" font-size="14.04" text-anchor="middle" textLength="21.68" lengthAdjust="spacingAndGlyphs" fill="#1a1a1a">100</text>
<line x1="68.80" y1="697.60" x2="68.80" y2="699.40" stroke="#3a3a3a" stroke-width="1.0"/>
<line x1="103.60" y1="697.60" x2="103.60" y2="699.40" stroke="#3a3a3a" stroke-width="1.0"/>
<line x1="138.40" y1="697.60" x2="138.40" y2="699.40" stroke="#3a3a3a" stroke-width="1.0"/>
<line x1="173.20" y1="697.60" x2="173.20" y2="699.40" stroke="#3a3a3a" stroke-width="1.0"/>
<line x1="208.00" y1="697.60" x2="208.00" y2="699.40" stroke="#3a3a3a" stroke-width="1.0"/>
<line x1="242.80" y1="697.60" x2="242.80" y2="699.40" stroke="#3a3a3a" stroke-width="1.0"/>
<line x1="46.10" y1="697.60" x2="49.10" y2="697.60" stroke="#3a3a3a" stroke-width="1.0"/>
<text x="44.00" y="701.80" font-size="14.04" text-anchor="end" textLength="7.23" lengthAdjust="spacingAndGlyphs" fill="#1a1a1a">0</text>
<line x1="46.10" y1="651.80" x2="49.10" y2="651.80" stroke="#3a3a3a" stroke-width="1.0"/>
<text x="44.00" y="656.00" font-size="14.04" text-anchor="end" textLength="14.46" lengthAdjust="spacingAndGlyphs" fill="#1a1a1a">10</text>
<line x1="46.10" y1="606.00" x2="49.10" y2="606.00" stroke="#3a3a3a" stroke-width="1.0"/>
<text x="44.00" y="610.20" font-size="14.04" text-anchor="end" textLength="14.46" lengthAdjust="spacingAndGlyphs" fill="#1a1a1a">20</text>
<line x1="46.10" y1="560.20" x2="49.10" y2="560.20" stroke="#3a3a3a" stroke-width="1.0"/>
<text x="44.00" y="564.40" font-size="14.04" text-anchor="end" textLength="14.46" lengthAdjust="spacingAndGlyphs" fill="#1a1a1a">30</text>
<line x1="47.30" y1="674.70" x2="49.10" y2="674.70" stroke="#3a3a3a" stroke-width="1.0"/>
<line x1="47.30" y1="628.90" x2="49.10" y2="628.90" stroke="#3a3a3a" stroke-width="1.0"/>
<line x1="47.30" y1="583.10" x2="49.10" y2="583.10" stroke="#3a3a3a" stroke-width="1.0"/>
<text x="14.20" y="700.20" font-size="14.2" text-anchor="start" transform="rotate(-90 14.20 700.20)" fill="#1a1a1a">Biconcave Cells (%)</text>
<text x="57.00" y="736.00" font-size="14" text-anchor="start" fill="#1a1a1a">Hours of Reticulocyte Culture</text>
<polyline points="51.40,696.40 86.20,692.60 121.00,678.90 155.80,668.50 201.04,642.90 242.80,595.00" fill="none" stroke="#151515" stroke-width="1.0"/>
<line x1="86.20" y1="691.00" x2="86.20" y2="694.50" stroke="#383838" stroke-width="1.05"/>
<line x1="82.80" y1="691.00" x2="89.60" y2="691.00" stroke="#383838" stroke-width="1.05"/>
<line x1="82.80" y1="694.50" x2="89.60" y2="694.50" stroke="#383838" stroke-width="1.05"/>
<line x1="121.00" y1="676.00" x2="121.00" y2="681.50" stroke="#383838" stroke-width="1.05"/>
<line x1="117.60" y1="676.00" x2="124.40" y2="676.00" stroke="#383838" stroke-width="1.05"/>
<line x1="117.60" y1="681.50" x2="124.40" y2="681.50" stroke="#383838" stroke-width="1.05"/>
<line x1="155.80" y1="661.30" x2="155.80" y2="676.60" stroke="#383838" stroke-width="1.05"/>
<line x1="152.40" y1="661.30" x2="159.20" y2="661.30" stroke="#383838" stroke-width="1.05"/>
<line x1="152.40" y1="676.60" x2="159.20" y2="676.60" stroke="#383838" stroke-width="1.05"/>
<line x1="201.04" y1="636.20" x2="201.04" y2="650.70" stroke="#383838" stroke-width="1.05"/>
<line x1="197.64" y1="636.20" x2="204.44" y2="636.20" stroke="#383838" stroke-width="1.05"/>
<line x1="197.64" y1="650.70" x2="204.44" y2="650.70" stroke="#383838" stroke-width="1.05"/>
<line x1="242.80" y1="589.50" x2="242.80" y2="601.00" stroke="#383838" stroke-width="1.05"/>
<line x1="239.40" y1="589.50" x2="246.20" y2="589.50" stroke="#383838" stroke-width="1.05"/>
<line x1="239.40" y1="601.00" x2="246.20" y2="601.00" stroke="#383838" stroke-width="1.05"/>
<rect x="48.90" y="693.90" width="5.0" height="5.0" fill="#151515"/>
<rect x="83.70" y="690.10" width="5.0" height="5.0" fill="#151515"/>
<rect x="118.50" y="676.40" width="5.0" height="5.0" fill="#151515"/>
<rect x="153.30" y="666.00" width="5.0" height="5.0" fill="#151515"/>
<rect x="198.54" y="640.40" width="5.0" height="5.0" fill="#151515"/>
<rect x="240.30" y="592.50" width="5.0" height="5.0" fill="#151515"/>
<text x="276.30" y="529.20" font-size="25.5" text-anchor="start" font-weight="bold" fill="#000">F</text>
<line x1="322.20" y1="697.00" x2="518.05" y2="697.00" stroke="#3a3a3a" stroke-width="1.0"/>
<line x1="322.20" y1="697.00" x2="322.20" y2="560.35" stroke="#3a3a3a" stroke-width="1.0"/>
<line x1="323.90" y1="697.00" x2="323.90" y2="700.00" stroke="#3a3a3a" stroke-width="1.0"/>
<text x="323.90" y="713.80" font-size="14.04" text-anchor="middle" textLength="7.23" lengthAdjust="spacingAndGlyphs" fill="#1a1a1a">0</text>
<line x1="358.60" y1="697.00" x2="358.60" y2="700.00" stroke="#3a3a3a" stroke-width="1.0"/>
<text x="358.60" y="713.80" font-size="14.04" text-anchor="middle" textLength="14.46" lengthAdjust="spacingAndGlyphs" fill="#1a1a1a">20</text>
<line x1="393.30" y1="697.00" x2="393.30" y2="700.00" stroke="#3a3a3a" stroke-width="1.0"/>
<text x="393.30" y="713.80" font-size="14.04" text-anchor="middle" textLength="14.46" lengthAdjust="spacingAndGlyphs" fill="#1a1a1a">40</text>
<line x1="428.00" y1="697.00" x2="428.00" y2="700.00" stroke="#3a3a3a" stroke-width="1.0"/>
<text x="428.00" y="713.80" font-size="14.04" text-anchor="middle" textLength="14.46" lengthAdjust="spacingAndGlyphs" fill="#1a1a1a">60</text>
<line x1="462.70" y1="697.00" x2="462.70" y2="700.00" stroke="#3a3a3a" stroke-width="1.0"/>
<text x="462.70" y="713.80" font-size="14.04" text-anchor="middle" textLength="14.46" lengthAdjust="spacingAndGlyphs" fill="#1a1a1a">80</text>
<line x1="497.40" y1="697.00" x2="497.40" y2="700.00" stroke="#3a3a3a" stroke-width="1.0"/>
<text x="497.40" y="713.80" font-size="14.04" text-anchor="middle" textLength="21.68" lengthAdjust="spacingAndGlyphs" fill="#1a1a1a">100</text>
<line x1="341.25" y1="697.00" x2="341.25" y2="698.80" stroke="#3a3a3a" stroke-width="1.0"/>
<line x1="375.95" y1="697.00" x2="375.95" y2="698.80" stroke="#3a3a3a" stroke-width="1.0"/>
<line x1="410.65" y1="697.00" x2="410.65" y2="698.80" stroke="#3a3a3a" stroke-width="1.0"/>
<line x1="445.35" y1="697.00" x2="445.35" y2="698.80" stroke="#3a3a3a" stroke-width="1.0"/>
<line x1="480.05" y1="697.00" x2="480.05" y2="698.80" stroke="#3a3a3a" stroke-width="1.0"/>
<line x1="514.75" y1="697.00" x2="514.75" y2="698.80" stroke="#3a3a3a" stroke-width="1.0"/>
<line x1="319.20" y1="697.20" x2="322.20" y2="697.20" stroke="#3a3a3a" stroke-width="1.0"/>
<text x="316.70" y="701.40" font-size="14.04" text-anchor="end" textLength="7.23" lengthAdjust="spacingAndGlyphs" fill="#1a1a1a">0</text>
<line x1="319.20" y1="658.10" x2="322.20" y2="658.10" stroke="#3a3a3a" stroke-width="1.0"/>
<text x="316.70" y="662.30" font-size="14.04" text-anchor="end" textLength="21.68" lengthAdjust="spacingAndGlyphs" fill="#1a1a1a">200</text>
<line x1="319.20" y1="619.00" x2="322.20" y2="619.00" stroke="#3a3a3a" stroke-width="1.0"/>
<text x="316.70" y="623.20" font-size="14.04" text-anchor="end" textLength="21.68" lengthAdjust="spacingAndGlyphs" fill="#1a1a1a">400</text>
<line x1="319.20" y1="579.90" x2="322.20" y2="579.90" stroke="#3a3a3a" stroke-width="1.0"/>
<text x="316.70" y="584.10" font-size="14.04" text-anchor="end" textLength="21.68" lengthAdjust="spacingAndGlyphs" fill="#1a1a1a">600</text>
<line x1="320.40" y1="677.65" x2="322.20" y2="677.65" stroke="#3a3a3a" stroke-width="1.0"/>
<line x1="320.40" y1="638.55" x2="322.20" y2="638.55" stroke="#3a3a3a" stroke-width="1.0"/>
<line x1="320.40" y1="599.45" x2="322.20" y2="599.45" stroke="#3a3a3a" stroke-width="1.0"/>
<line x1="320.40" y1="560.35" x2="322.20" y2="560.35" stroke="#3a3a3a" stroke-width="1.0"/>
<text x="285.70" y="744.90" font-size="14.2" text-anchor="start" transform="rotate(-90 285.70 744.90)" fill="#1a1a1a">Fe Inc. per 10<tspan font-size="9.5" dy="-7.3"> 6</tspan><tspan dy="7.3"> Viable Cells (cpm)</tspan></text>
<text x="327.50" y="737.70" font-size="14" text-anchor="start" fill="#1a1a1a">Hours of Reticulocyte Culture</text>
<polyline points="325.11,563.40 330.84,579.30 344.72,613.60 358.60,640.80 393.30,674.90 428.00,690.00 514.75,691.30" fill="none" stroke="#151515" stroke-width="1.0"/>
<line x1="325.11" y1="561.80" x2="325.11" y2="565.00" stroke="#383838" stroke-width="1.05"/>
<line x1="321.71" y1="561.80" x2="328.51" y2="561.80" stroke="#383838" stroke-width="1.05"/>
<line x1="321.71" y1="565.00" x2="328.51" y2="565.00" stroke="#383838" stroke-width="1.05"/>
<line x1="330.84" y1="572.30" x2="330.84" y2="586.60" stroke="#383838" stroke-width="1.05"/>
<line x1="327.44" y1="572.30" x2="334.24" y2="572.30" stroke="#383838" stroke-width="1.05"/>
<line x1="327.44" y1="586.60" x2="334.24" y2="586.60" stroke="#383838" stroke-width="1.05"/>
<line x1="344.72" y1="608.90" x2="344.72" y2="619.40" stroke="#383838" stroke-width="1.05"/>
<line x1="341.32" y1="608.90" x2="348.12" y2="608.90" stroke="#383838" stroke-width="1.05"/>
<line x1="341.32" y1="619.40" x2="348.12" y2="619.40" stroke="#383838" stroke-width="1.05"/>
<line x1="358.60" y1="637.00" x2="358.60" y2="645.00" stroke="#383838" stroke-width="1.05"/>
<line x1="355.20" y1="637.00" x2="362.00" y2="637.00" stroke="#383838" stroke-width="1.05"/>
<line x1="355.20" y1="645.00" x2="362.00" y2="645.00" stroke="#383838" stroke-width="1.05"/>
<line x1="393.30" y1="672.50" x2="393.30" y2="677.00" stroke="#383838" stroke-width="1.05"/>
<line x1="389.90" y1="672.50" x2="396.70" y2="672.50" stroke="#383838" stroke-width="1.05"/>
<line x1="389.90" y1="677.00" x2="396.70" y2="677.00" stroke="#383838" stroke-width="1.05"/>
<line x1="428.00" y1="688.50" x2="428.00" y2="691.50" stroke="#383838" stroke-width="1.05"/>
<line x1="424.60" y1="688.50" x2="431.40" y2="688.50" stroke="#383838" stroke-width="1.05"/>
<line x1="424.60" y1="691.50" x2="431.40" y2="691.50" stroke="#383838" stroke-width="1.05"/>
<line x1="514.75" y1="689.50" x2="514.75" y2="693.00" stroke="#383838" stroke-width="1.05"/>
<line x1="511.35" y1="689.50" x2="518.15" y2="689.50" stroke="#383838" stroke-width="1.05"/>
<line x1="511.35" y1="693.00" x2="518.15" y2="693.00" stroke="#383838" stroke-width="1.05"/>
<rect x="322.61" y="560.90" width="5.0" height="5.0" fill="#151515"/>
<rect x="328.34" y="576.80" width="5.0" height="5.0" fill="#151515"/>
<rect x="342.22" y="611.10" width="5.0" height="5.0" fill="#151515"/>
<rect x="356.10" y="638.30" width="5.0" height="5.0" fill="#151515"/>
<rect x="390.80" y="672.40" width="5.0" height="5.0" fill="#151515"/>
<rect x="425.50" y="687.50" width="5.0" height="5.0" fill="#151515"/>
<rect x="512.25" y="688.80" width="5.0" height="5.0" fill="#151515"/>
</svg>
</body></html>
